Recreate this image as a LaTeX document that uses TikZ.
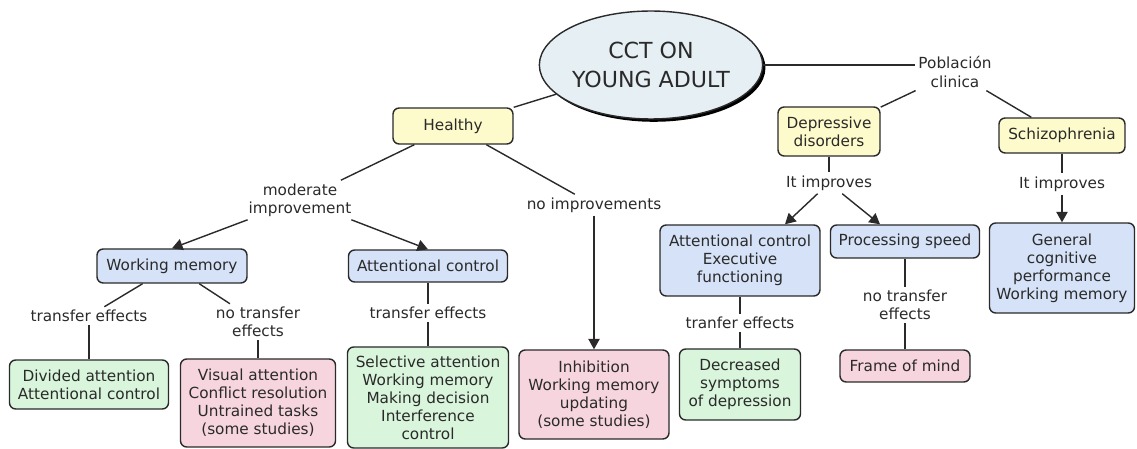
\documentclass[tikz,border=0pt]{standalone}
\usepackage{fontspec}
\setmainfont{DejaVu Sans}
\usetikzlibrary{arrows.meta,shapes.geometric,shadows}

\definecolor{ink}{HTML}{2A2A2A}
\definecolor{cyellow}{HTML}{FDFACB}
\definecolor{cblue}{HTML}{D5E2F7}
\definecolor{cgreen}{HTML}{D9F5DC}
\definecolor{cpink}{HTML}{F7D5DE}
\definecolor{cellipse}{HTML}{E6EFF4}

\begin{document}
\begin{tikzpicture}[x=0.02cm,y=-0.02cm,line width=0.8pt,color=ink,
    >={Triangle[length=6pt,width=6.5pt]},
    cct node/.style={ellipse,draw,fill=cellipse,minimum width=4.04cm,minimum height=2.16cm,
        align=center,inner sep=0pt,font=\fontsize{12.6}{17}\selectfont,
        drop shadow={shadow xshift=1.6pt,shadow yshift=-1.6pt,fill=black,opacity=1}},
    box/.style={draw,rounded corners=3.5pt,align=center,inner sep=1pt,
        font=\fontsize{8.7}{10.3}\selectfont},
    yellow box/.style={box,fill=cyellow},
    blue box/.style={box,fill=cblue},
    green box/.style={box,fill=cgreen},
    pink box/.style={box,fill=cpink},
    link/.style={align=center,inner sep=1.5pt,font=\fontsize{8.7}{10.3}\selectfont}]

    \useasboundingbox (0,0) rectangle (1137,449);

    % Define vertices
    \node[cct node] (cct) at (651,65) {CCT ON\\YOUNG ADULT};
    \node[link] (pob) at (955,72) {Población\\clinica};

    \node[yellow box,minimum width=2.4cm,minimum height=0.72cm] (healthy) at (453,126) {Healthy};
    \node[yellow box,minimum width=2.04cm,minimum height=0.98cm] (depressive) at (829,131.5) {Depressive\\disorders};
    \node[yellow box,minimum width=2.52cm,minimum height=0.7cm] (schizo) at (1062,135.5) {Schizophrenia};

    \node[link] (modimp) at (300,200) {moderate\\improvement};
    \node[link] (noimp) at (594,205) {no improvements};
    \node[link] (impdep) at (829,183) {It improves};
    \node[link] (impsch) at (1062,184) {It improves};

    \node[blue box,minimum width=3cm,minimum height=0.68cm] (wm) at (172,266) {Working memory};
    \node[blue box,minimum width=3.18cm,minimum height=0.64cm] (acl) at (428,266) {Attentional control};
    \node[blue box,minimum width=3.2cm,minimum height=1.42cm] (ace) at (740,260.5) {Attentional control\\Executive\\functioning};
    \node[blue box,minimum width=2.98cm,minimum height=0.66cm] (speed) at (905,241.5) {Processing speed};
    \node[blue box,minimum width=2.9cm,minimum height=1.8cm] (general) at (1062,268) {General\\cognitive\\performance\\Working memory};

    \node[link] (te1) at (89,316) {transfer effects};
    \node[link] (nte1) at (258,322) {no transfer\\effects};
    \node[link] (te2) at (428,313) {transfer effects};
    \node[link] (te3) at (740,323) {tranfer effects};
    \node[link] (nte2) at (905,305) {no transfer\\effects};

    \node[green box,minimum width=3.18cm,minimum height=0.98cm] (divided) at (89,384.5) {Divided attention\\Attentional control};
    \node[pink box,minimum width=3.1cm,minimum height=1.76cm] (visual) at (258,403) {Visual attention\\Conflict resolution\\Untrained tasks\\(some studies)};
    \node[green box,minimum width=3.22cm,minimum height=2.02cm] (selective) at (428,397.5) {Selective attention\\Working memory\\Making decision\\Interference\\control};
    \node[pink box,minimum width=3cm,minimum height=1.78cm] (inhibition) at (594,394.5) {Inhibition\\Working memory\\updating\\(some studies)};
    \node[green box,minimum width=2.42cm,minimum height=1.42cm] (decreased) at (740,384.5) {Decreased\\symptoms\\of depression};
    \node[pink box,minimum width=2.6cm,minimum height=0.64cm] (frame) at (905,366) {Frame of mind};

    % Draw edges
    \path
        (cct) edge (healthy)
        (cct.east) edge (cct.east -| pob.west)
        (pob) edge (depressive)
        (pob) edge (schizo)
        (healthy) edge (modimp)
        (healthy) edge (noimp)
        (modimp) edge[->] (wm.north)
        (modimp) edge[->] (acl.north)
        (noimp) edge[->] (inhibition)
        (wm) edge (te1)
        (te1) edge (divided)
        (wm) edge (nte1)
        (nte1) edge (visual)
        (acl) edge (te2)
        (te2) edge (selective)
        (depressive) edge (impdep)
        (impdep) edge[->] ([xshift=0.9cm]ace.north)
        (impdep) edge[->] ([xshift=-0.5cm]speed.north)
        (ace) edge (te3)
        (te3) edge (decreased)
        (speed) edge (nte2)
        (nte2) edge (frame)
        (schizo) edge (impsch)
        (impsch) edge[->] (general);

\end{tikzpicture}
\end{document}
